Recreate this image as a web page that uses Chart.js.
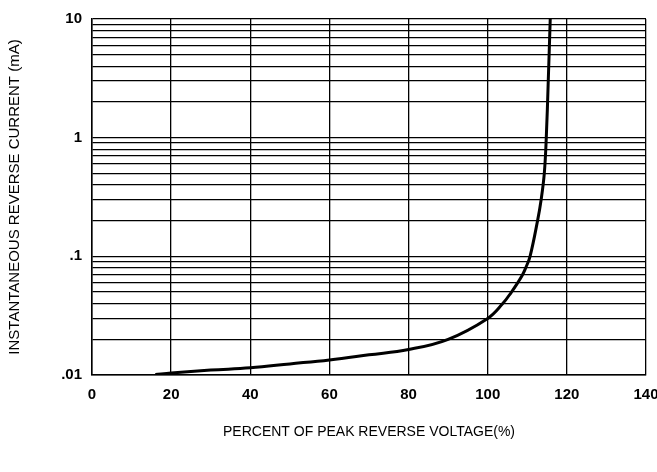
<!DOCTYPE html>
<html>
<head>
<meta charset="utf-8">
<script src="https://cdn.jsdelivr.net/npm/chart.js@4.4.1/dist/chart.umd.min.js"></script>
<style>
  html, body { margin: 0; padding: 0; background: #fff; }
  #wrap { width: 657px; height: 472px; position: relative; }
</style>
</head>
<body>
<div id="wrap"><canvas id="c"></canvas></div>
<script>
// Data
const voltagePct = [16, 20, 30, 40, 50, 60, 70, 80, 90, 100, 103.8, 106, 107.6, 108.8, 109.6, 110.7, 112.6, 113.5, 114.3, 114.8, 115.3, 115.8];
const currentMA  = [0.0101, 0.0104, 0.011, 0.0115, 0.0124, 0.0134, 0.0148, 0.0164, 0.020, 0.030, 0.040, 0.05, 0.06, 0.07, 0.08, 0.1, 0.2, 0.3, 0.5, 1.0, 3.0, 10];
const xTicks = [0, 20, 40, 60, 80, 100, 120, 140];
const yGridValues = [0.01,0.02,0.03,0.04,0.05,0.06,0.07,0.08,0.09,
                     0.1,0.2,0.3,0.4,0.5,0.6,0.7,0.8,0.9,
                     1,2,3,4,5,6,7,8,9,10];
const yLabels = {0.01: '.01', 0.1: '.1', 1: '1', 10: '10'};
const xTitle = 'PERCENT OF PEAK REVERSE VOLTAGE(%)';
const yTitle = 'INSTANTANEOUS REVERSE CURRENT (mA)';

const FONT = "'Liberation Sans', Arial, sans-serif";

new Chart(document.getElementById('c'), {
  type: 'line',
  data: {
    datasets: [{
      data: voltagePct.map((x, i) => ({x: x, y: currentMA[i]})),
      borderColor: '#000',
      borderWidth: 3,
      pointRadius: 0,
      tension: 0.4,
      fill: false
    }]
  },
  options: {
    responsive: true,
    maintainAspectRatio: false,
    animation: false,
    devicePixelRatio: 1,
    layout: { padding: { left: 0, right: 0, top: 17, bottom: 0 } },
    plugins: { legend: { display: false }, tooltip: { enabled: false } },
    scales: {
      x: {
        type: 'linear',
        min: 0, max: 140,
        afterBuildTicks: s => { s.ticks = xTicks.map(v => ({value: v})); },
        afterFit: s => { s.height = 97; s.paddingRight = 11; },
        grid: { color: '#000', lineWidth: 1.3, drawTicks: false },
        border: { color: '#000', width: 1.5 },
        ticks: {
          color: '#000', padding: 11, maxRotation: 0, autoSkip: false,
          font: { family: FONT, size: 15, weight: 'bold' }
        },
        title: {
          display: true, text: xTitle, color: '#000',
          font: { family: FONT, size: 14 },
          padding: { top: 0, bottom: 31 }
        }
      },
      y: {
        type: 'logarithmic',
        min: 0.01, max: 10,
        afterBuildTicks: s => { s.ticks = yGridValues.map(v => ({value: v})); },
        afterFit: s => { s.width = 92; },
        grid: { color: '#000', lineWidth: 1.3, drawTicks: false },
        border: { color: '#000', width: 1.5 },
        ticks: {
          color: '#000', padding: 10, autoSkip: false,
          font: { family: FONT, size: 15, weight: 'bold' },
          callback: v => (yLabels[v] !== undefined ? yLabels[v] : '')
        },
        title: {
          display: true, text: yTitle, color: '#000',
          font: { family: FONT, size: 15 },
          padding: { top: 6, bottom: 0 }
        }
      }
    }
  }
});
</script>
</body>
</html>
